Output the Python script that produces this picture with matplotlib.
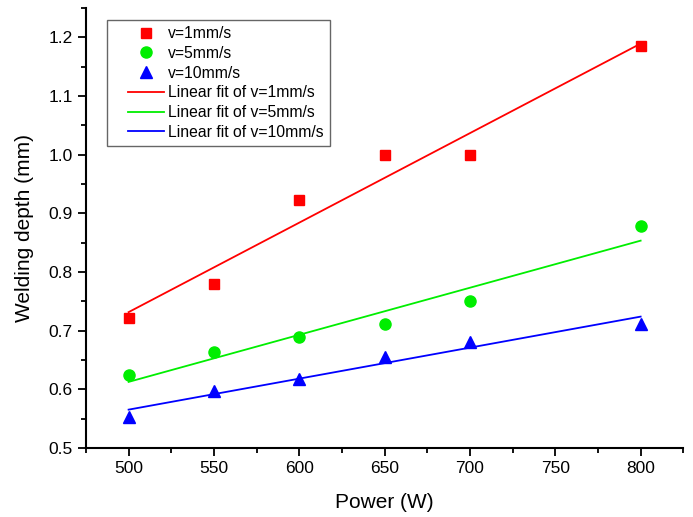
import matplotlib
matplotlib.use("Agg")
import matplotlib.pyplot as plt
from matplotlib.ticker import MultipleLocator
from matplotlib.legend_handler import HandlerLine2D
import numpy as np

plt.rcParams['font.family'] = ['Liberation Sans', 'DejaVu Sans']

power = [500, 550, 600, 650, 700, 800]
depth_v1 = [0.722, 0.780, 0.922, 1.000, 1.000, 1.186]
depth_v5 = [0.625, 0.663, 0.689, 0.712, 0.750, 0.879]
depth_v10 = [0.553, 0.597, 0.618, 0.655, 0.680, 0.712]
labels = ['v=1mm/s', 'v=5mm/s', 'v=10mm/s']

fig = plt.figure(figsize=(6.93, 5.17), dpi=100)
ax = fig.add_axes([0.124, 0.1335, 0.862, 0.851])

series = [(depth_v1, '#ff0000', 's', 7), (depth_v5, '#00ee00', 'o', 8), (depth_v10, '#0000ff', '^', 9)]
pts = []
fits = []
x = np.array(power)
for (y, c, m, ms), lab in zip(series, labels):
    p, = ax.plot(x, y, linestyle='none', marker=m, color=c, markersize=ms, label=lab)
    pts.append(p)
for (y, c, m, ms), lab in zip(series, labels):
    k, b = np.polyfit(x, y, 1)
    l, = ax.plot(x, k * x + b, color=c, lw=1.3, label='Linear fit of ' + lab)
    fits.append(l)

ax.set_xlim(475, 825)
ax.set_ylim(0.5, 1.25)
ax.xaxis.set_major_locator(MultipleLocator(50))
ax.xaxis.set_minor_locator(MultipleLocator(25))
ax.yaxis.set_major_locator(MultipleLocator(0.1))
ax.yaxis.set_minor_locator(MultipleLocator(0.05))
ax.set_xticks([500, 550, 600, 650, 700, 750, 800])
ax.set_yticks([0.5, 0.6, 0.7, 0.8, 0.9, 1.0, 1.1, 1.2])
ax.tick_params(which='major', direction='out', length=6, width=1.3, labelsize=12.5)
ax.tick_params(which='minor', direction='out', length=3.5, width=1.3)
ax.spines['top'].set_visible(False)
ax.spines['right'].set_visible(False)
ax.spines['left'].set_linewidth(1.5)
ax.spines['bottom'].set_linewidth(1.5)

ax.set_xlabel('Power (W)', fontsize=15, labelpad=12)
ax.set_ylabel('Welding depth (mm)', fontsize=15, labelpad=10)

# xpad pushes the legend handles right, leaving a wider left margin in the box
hmap = {h: HandlerLine2D(xpad=0.95) for h in pts + fits}
leg = ax.legend(handles=pts + fits, loc='upper left', bbox_to_anchor=(0.035, 0.973),
                borderaxespad=0, fontsize=11.3, fancybox=False, edgecolor='#666666',
                handlelength=3.24, labelspacing=0.3, borderpad=0.4, handletextpad=0.25,
                framealpha=1, handler_map=hmap)
leg.get_frame().set_linewidth(1.0)

fig.savefig('out.png', dpi=100)
